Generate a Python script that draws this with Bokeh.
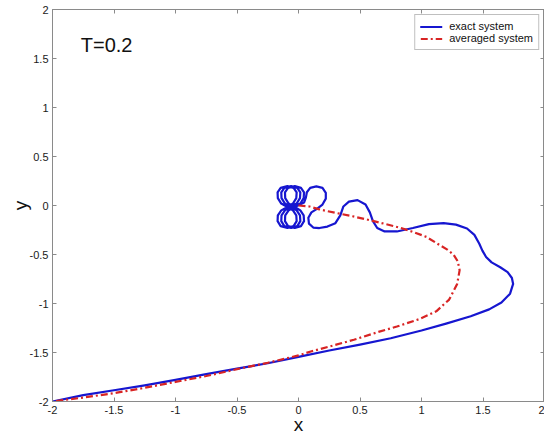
from bokeh.plotting import figure
from bokeh.models import LinearAxis, FixedTicker, Label, Range1d, Legend, LegendItem
from bokeh.embed import file_html
from bokeh.resources import INLINE

# ---------------- data ----------------
x_ticks = [-2.0, -1.5, -1.0, -0.5, 0.0, 0.5, 1.0, 1.5, 2.0]
x_tick_labels = ["-2", "-1.5", "-1", "-0.5", "0", "0.5", "1", "1.5", "2"]
y_ticks = [-2.0, -1.5, -1.0, -0.5, 0.0, 0.5, 1.0, 1.5, 2.0]
y_tick_labels = ["-2", "-1.5", "-1", "-0.5", "0", "0.5", "1", "1.5", "2"]

series_names = ["exact system", "averaged system"]
annotation_text = "T=0.2"
x_label = "x"
y_label = "y"

# exact system: long approach from (-2,-2), bulge on the right, S-bump, then loops near the origin
exact_x = [
    -2.0, -1.75, -1.5, -1.25, -1.0, -0.75, -0.5, -0.25, 0.0, 0.25, 0.5, 0.75, 1.0, 1.2, 1.4,
    1.55, 1.65, 1.72, 1.745, 1.735, 1.70, 1.64, 1.57, 1.525, 1.495, 1.47, 1.43, 1.37, 1.28, 1.18, 1.06,
    0.93, 0.80, 0.70, 0.64, 0.605, 0.58, 0.545, 0.48, 0.41, 0.365, 0.34, 0.30, 0.235,
    0.17, 0.12, 0.085, 0.08, 0.105, 0.15, 0.195, 0.222, 0.222, 0.195, 0.145, 0.095, 0.068,
    0.06, 0.045,
    -0.03, -0.08, -0.108, -0.11, -0.085, -0.03, 0.02, 0.045, 0.042, 0.015, -0.03,
    -0.08, -0.108, -0.11, -0.085, -0.03, 0.02, 0.045, 0.042, 0.015,
    -0.06, -0.11, -0.138, -0.14, -0.115, -0.06, -0.01, 0.015, 0.012, -0.015, -0.06,
    -0.11, -0.138, -0.14, -0.115, -0.06, -0.01, 0.015, 0.012, -0.015,
    -0.09, -0.14, -0.168, -0.17, -0.145, -0.09, -0.04, -0.015, -0.018, -0.045, -0.09,
    -0.14, -0.168, -0.17, -0.145, -0.09, -0.04, -0.015, -0.018, -0.045, -0.09,
]
exact_y = [
    -2.0, -1.935, -1.885, -1.835, -1.78, -1.72, -1.665, -1.61, -1.545, -1.48, -1.42, -1.355, -1.275, -1.205, -1.13,
    -1.06, -0.99, -0.90, -0.80, -0.74, -0.68, -0.63, -0.58, -0.525, -0.46, -0.39, -0.30, -0.235, -0.195, -0.18, -0.19,
    -0.23, -0.265, -0.265, -0.23, -0.16, -0.07, 0.01, 0.055, 0.04, -0.01, -0.10, -0.18, -0.215,
    -0.23, -0.225, -0.185, -0.125, -0.07, -0.035, 0.01, 0.07, 0.13, 0.18, 0.195, 0.18, 0.135,
    0.08, 0.03,
    -0.015, -0.05, -0.10, -0.16, -0.21, -0.228, -0.21, -0.16, -0.10, -0.05, -0.015,
    0.02, 0.075, 0.135, 0.18, 0.198, 0.18, 0.135, 0.075, 0.02,
    -0.015, -0.05, -0.10, -0.16, -0.21, -0.228, -0.21, -0.16, -0.10, -0.05, -0.015,
    0.02, 0.075, 0.135, 0.18, 0.198, 0.18, 0.135, 0.075, 0.02,
    -0.015, -0.05, -0.10, -0.16, -0.21, -0.228, -0.21, -0.16, -0.10, -0.05, -0.015,
    0.02, 0.075, 0.135, 0.18, 0.198, 0.18, 0.135, 0.075, 0.02, -0.015,
]

# averaged system: smooth curve from the origin out to the right and back down to (-2,-2)
avg_x = [0.0, 0.09, 0.17, 0.30, 0.44, 0.58, 0.71, 0.82, 0.92, 1.04, 1.14, 1.21, 1.26, 1.295,
         1.31, 1.29, 1.225, 1.12, 0.98, 0.80, 0.65, 0.45, 0.25, 0.10, 0.0, -0.25, -0.5,
         -0.75, -1.0, -1.25, -1.5, -1.75, -2.0]
avg_y = [0.0, -0.01, -0.04, -0.075, -0.11, -0.15, -0.19, -0.225, -0.265, -0.32, -0.398, -0.45, -0.50, -0.57,
         -0.66, -0.80, -0.96, -1.08, -1.16, -1.235, -1.29, -1.37, -1.44, -1.49, -1.53, -1.605, -1.67,
         -1.74, -1.80, -1.86, -1.915, -1.96, -2.0]

# ---------------- styling ----------------
FONT = "Liberation Sans"
AXIS_GRAY = "#8a8a8a"
BLUE = "#1616d0"
RED = "#d82424"

p = figure(
    frame_width=492, frame_height=392,
    x_range=Range1d(-2, 2), y_range=Range1d(-2, 2),
    output_backend="svg", toolbar_location=None,
    min_border_left=52, min_border_right=0, min_border_top=9, min_border_bottom=0,
    background_fill_color="white", border_fill_color="white",
)
p.grid.visible = False
p.outline_line_color = AXIS_GRAY
p.outline_line_width = 1


def style_axis(ax, ticks, labels, show_labels, standoff):
    ax.ticker = FixedTicker(ticks=ticks)
    if show_labels:
        ax.major_label_overrides = {t: l for t, l in zip(ticks, labels)}
        ax.major_label_text_font = FONT
        ax.major_label_text_font_size = "11px"
        ax.major_label_text_color = "#1a1a1a"
        ax.major_label_standoff = standoff
    else:
        ax.major_label_overrides = {t: "" for t in ticks}
        ax.major_label_text_font_size = "0px"
        ax.major_label_standoff = 0
    ax.axis_line_color = AXIS_GRAY
    ax.major_tick_line_color = AXIS_GRAY
    ax.major_tick_in = 4
    ax.major_tick_out = 0
    ax.minor_tick_line_color = None


style_axis(p.xaxis[0], x_ticks, x_tick_labels, True, 4)
style_axis(p.yaxis[0], y_ticks, y_tick_labels, True, 4)
p.xaxis[0].axis_label = x_label
p.xaxis[0].axis_label_text_font = FONT
p.xaxis[0].axis_label_text_font_size = "19px"
p.xaxis[0].axis_label_text_font_style = "normal"
p.xaxis[0].axis_label_text_color = "#111111"
p.xaxis[0].axis_label_standoff = -3
p.yaxis[0].axis_label = y_label
p.yaxis[0].axis_label_text_font = FONT
p.yaxis[0].axis_label_text_font_size = "19px"
p.yaxis[0].axis_label_text_font_style = "normal"
p.yaxis[0].axis_label_text_color = "#111111"
p.yaxis[0].axis_label_standoff = -4

top_ax = LinearAxis()
right_ax = LinearAxis()
style_axis(top_ax, x_ticks, x_tick_labels, False, 0)
style_axis(right_ax, y_ticks, y_tick_labels, False, 0)
p.add_layout(top_ax, "above")
p.add_layout(right_ax, "right")

r_exact = p.line(exact_x, exact_y, line_color=BLUE, line_width=2.2, line_join="round", line_cap="round")
r_avg = p.line(avg_x, avg_y, line_color=RED, line_width=2.2, line_dash="7 3 2 3", line_join="round")

legend = Legend(
    items=[LegendItem(label=series_names[0], renderers=[r_exact]),
           LegendItem(label=series_names[1], renderers=[r_avg])],
    location="top_right",
    label_text_font=FONT, label_text_font_size="11px", label_text_color="#111111",
    glyph_width=22, glyph_height=11, label_height=11, label_standoff=7,
    spacing=0, padding=5, margin=5,
    border_line_color="#808080", border_line_width=1,
    background_fill_color="white", background_fill_alpha=1.0,
)
p.add_layout(legend)

p.add_layout(Label(x=-1.77, y=1.64, text=annotation_text, text_font=FONT,
                   text_font_size="20px", text_color="#111111", text_baseline="alphabetic"))

open("out.html", "w").write(file_html(p, INLINE))
